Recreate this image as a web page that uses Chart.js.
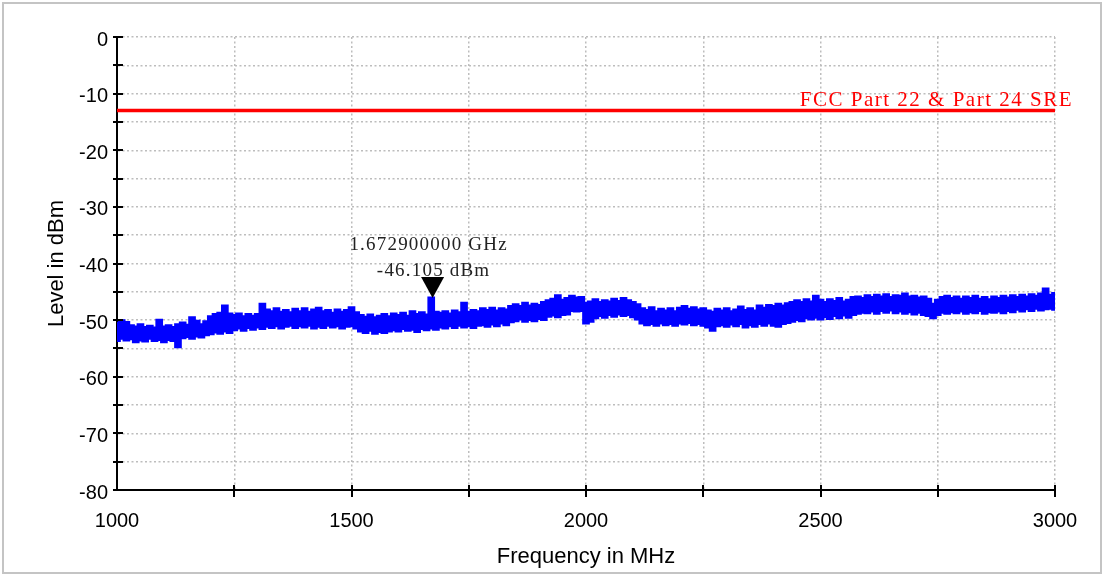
<!DOCTYPE html>
<html>
<head>
<meta charset="utf-8">
<title>Spectrum scan</title>
<script src="https://cdn.jsdelivr.net/npm/chart.js@4.4.1/dist/chart.umd.min.js"></script>
<style>
  html, body { margin: 0; padding: 0; background: #fff; }
  canvas { display: block; }
</style>
</head>
<body>
<canvas id="chart" width="1104" height="575"></canvas>
<script>
const freqStartMHz = 1000;
const freqStepMHz = 10;

// upper edge of the noise band (dBm)
const upperLevels = [
  -50.6, -50.1, -50.4, -51.0, -51.2, -50.8, -51.3, -51.1, -51.4, -50.0,
  -51.2, -51.0, -51.3, -50.8, -50.5, -50.9, -49.6, -50.2, -50.8, -50.3,
  -49.4, -49.0, -48.8, -47.5, -48.9, -49.2, -48.9, -49.4, -49.0, -49.3,
  -49.0, -47.2, -48.2, -48.5, -48.0, -48.6, -48.3, -48.7, -48.1, -48.5,
  -48.0, -48.6, -48.2, -47.9, -48.5, -48.3, -48.8, -48.2, -48.6, -48.3,
  -47.8, -48.7, -49.2, -49.5, -49.1, -49.6, -49.3, -49.0, -49.4, -48.9,
  -49.2, -48.8, -49.3, -48.5, -49.0, -48.7, -49.1, -46.1, -48.6, -48.8,
  -48.5, -48.9, -48.4, -48.7, -47.0, -48.6, -48.3, -48.5, -48.0, -48.3,
  -47.9, -48.4, -48.0, -48.2, -47.6, -47.3, -47.6, -47.0, -47.5, -47.2,
  -47.4, -46.9, -46.6, -46.3, -45.7, -46.5, -46.2, -45.8, -46.1, -46.0,
  -47.0, -46.8, -46.4, -46.9, -46.6, -46.8, -46.3, -46.7, -46.2, -46.6,
  -46.9, -47.3, -48.0, -48.3, -47.8, -48.5, -48.1, -48.4, -48.0, -48.5,
  -47.9, -47.6, -48.1, -47.8, -48.2, -48.0, -48.4, -48.6, -48.1, -48.4,
  -48.0, -48.5, -48.2, -47.7, -48.3, -48.0, -48.4, -47.5, -47.9, -47.4,
  -47.6, -47.2, -47.5, -47.1, -46.9, -46.6, -46.9, -46.4, -46.8, -45.8,
  -46.5, -46.9, -46.4, -46.7, -46.2, -46.8, -46.5, -46.0, -45.9, -46.2,
  -45.7, -46.0, -45.6, -45.9, -45.5, -46.0, -45.7, -45.8, -45.4, -45.9,
  -45.8, -46.1, -45.9, -46.3, -47.2, -46.5, -46.0, -45.8, -46.2, -45.9,
  -46.3, -45.9, -46.2, -45.8, -46.3, -46.0, -46.4, -45.9, -46.2, -45.8,
  -46.1, -45.7, -46.0, -45.6, -45.9, -45.5, -45.8, -45.4, -44.5, -45.6,
  -45.3,
];

// lower edge of the noise band (dBm)
const lowerLevels = [
  -53.6, -53.2, -53.5, -53.3, -53.8, -53.5, -53.7, -53.2, -53.6, -53.4,
  -53.8, -53.4, -53.6, -54.7, -53.1, -52.9, -53.2, -52.8, -53.0, -52.6,
  -52.4, -52.1, -52.3, -51.9, -52.2, -51.7, -51.4, -51.8, -51.3, -51.6,
  -51.2, -51.5, -51.1, -51.3, -51.0, -51.4, -51.1, -50.9, -51.3, -51.0,
  -51.2, -50.9, -51.4, -51.1, -51.3, -50.9, -51.2, -51.0, -51.4, -51.1,
  -51.0, -51.4, -51.9, -52.2, -51.8, -52.3, -52.0, -52.2, -51.9, -51.7,
  -51.9, -51.5, -51.8, -51.6, -52.0, -51.5, -51.7, -51.4, -51.6, -51.2,
  -51.4, -51.0, -51.3, -50.9, -51.2, -51.0, -51.3, -50.9, -50.8, -51.1,
  -50.7, -51.0, -50.5, -50.8, -50.3, -50.1, -49.8, -50.2, -49.9, -50.1,
  -49.7, -49.9, -49.3, -49.1, -49.4, -49.0, -48.9, -48.3, -48.4, -48.3,
  -50.5, -50.2, -49.6, -49.2, -49.5, -49.0, -49.3, -48.9, -49.2, -49.0,
  -49.4, -49.8, -50.5, -50.8, -50.6, -50.9, -50.5, -50.8, -50.6, -50.9,
  -50.5, -50.7, -50.4, -50.8, -50.6, -50.9, -51.2, -51.8, -51.0, -50.8,
  -51.1, -50.7, -51.0, -50.6, -51.2, -50.8, -51.1, -50.6, -50.9, -50.5,
  -50.9, -51.1, -50.6, -50.4, -50.2, -49.9, -50.1, -49.6, -49.8, -49.5,
  -49.8, -49.4, -49.7, -49.2, -49.6, -49.1, -49.5, -49.0, -48.8, -48.6,
  -48.7, -48.4, -48.8, -48.3, -48.6, -48.2, -48.7, -48.4, -48.8, -48.5,
  -48.9, -48.6, -49.0, -49.2, -49.6, -49.0, -48.6, -48.8, -48.5, -48.7,
  -48.4, -48.8, -48.5, -48.7, -48.3, -48.8, -48.5, -48.6, -48.4, -48.7,
  -48.3, -48.5, -48.1, -48.4, -48.0, -48.3, -47.9, -48.2, -48.0, -47.9,
  -48.1,
];

// limit line
const limitFreqs = [1000, 3000];
const limitLevels = [-13, -13];
const limitLabel = 'FCC Part 22 & Part 24 SRE';

// peak marker
const markerFreq = 1672.9;
const markerLevel = -46.105;

// axes
const xMin = 1000, xMax = 3000, xStep = 250, xLabelEvery = 500;
const yMin = -80, yMax = 0, yStep = 5, yLabelEvery = 10;

const freqs = upperLevels.map((_, i) => freqStartMHz + i * freqStepMHz);
const toPoints = (xs, ys) => xs.map((x, i) => ({ x, y: ys[i] }));

const BLUE = '#0000ff';
const GRID = '#bdbdbd';
const SERIF = '"Liberation Serif", "DejaVu Serif", serif';
const SANS = '"Liberation Sans", Arial, sans-serif';

const overlay = {
  id: 'overlay',
  afterDraw (chart) {
    const { ctx, scales: { x, y } } = chart;
    const axisX = x.left;
    const axisY = y.bottom;
    ctx.save();

    // tick marks crossing the axes
    ctx.strokeStyle = '#000';
    ctx.lineWidth = 2;
    ctx.beginPath();
    for (let v = yMin; v <= yMax; v += yStep) {
      const py = Math.round(y.getPixelForValue(v));
      ctx.moveTo(axisX - 4, py);
      ctx.lineTo(axisX + 6, py);
    }
    for (let v = xMin + xStep; v <= xMax; v += xStep) {
      const px = Math.round(x.getPixelForValue(v));
      ctx.moveTo(px, axisY - 5);
      ctx.lineTo(px, axisY + 7);
    }
    ctx.stroke();

    // limit label
    ctx.fillStyle = '#ff0000';
    ctx.font = `21px ${SERIF}`;
    ctx.letterSpacing = '1.5px';
    ctx.textAlign = 'right';
    ctx.textBaseline = 'alphabetic';
    ctx.fillText(limitLabel, x.right + 18, y.getPixelForValue(limitLevels[1]) - 5);

    // peak marker
    const mx = x.getPixelForValue(markerFreq);
    const my = y.getPixelForValue(markerLevel);
    ctx.fillStyle = '#000';
    ctx.beginPath();
    ctx.moveTo(mx, my);
    ctx.lineTo(mx - 11.5, my - 21);
    ctx.lineTo(mx + 11.5, my - 21);
    ctx.closePath();
    ctx.fill();

    ctx.fillStyle = '#222';
    ctx.font = `19px ${SERIF}`;
    ctx.letterSpacing = '1.2px';
    ctx.textAlign = 'center';
    ctx.fillText(`${(markerFreq / 1000).toFixed(9)} GHz`, mx - 4, my - 48);
    ctx.fillText(`${markerLevel.toFixed(3)} dBm`, mx + 1, my - 22);

    // outer frame
    ctx.letterSpacing = '0px';
    ctx.strokeStyle = '#c4c4c4';
    ctx.lineWidth = 2;
    ctx.strokeRect(3, 3, chart.width - 6, chart.height - 5);
    ctx.restore();
  },
};

new Chart(document.getElementById('chart'), {
  type: 'line',
  data: {
    datasets: [
      {
        label: 'Limit',
        data: toPoints(limitFreqs, limitLevels),
        borderColor: '#ff0000',
        borderWidth: 3.5,
        pointRadius: 0,
        fill: false,
        order: 0,
      },
      {
        label: 'Upper',
        data: toPoints(freqs, upperLevels),
        borderColor: BLUE,
        backgroundColor: BLUE,
        borderWidth: 3,
        pointRadius: 0,
        stepped: 'middle',
        fill: '+1',
        order: 1,
      },
      {
        label: 'Lower',
        data: toPoints(freqs, lowerLevels),
        borderColor: BLUE,
        borderWidth: 3,
        pointRadius: 0,
        stepped: 'middle',
        fill: false,
        order: 2,
      },
    ],
  },
  options: {
    responsive: false,
    animation: false,
    devicePixelRatio: 1,
    layout: { padding: { top: 37, right: 49, left: 0, bottom: 0 } },
    plugins: {
      legend: { display: false },
      tooltip: { enabled: false },
    },
    scales: {
      x: {
        type: 'linear',
        min: xMin,
        max: xMax,
        afterFit (scale) { scale.height = 85; },
        border: { display: true, color: '#000', width: 2, dash: [2, 2.5] },
        grid: { color: GRID, lineWidth: 1.5, drawTicks: false },
        ticks: {
          stepSize: xStep,
          padding: 19,
          color: '#000',
          maxRotation: 0,
          autoSkip: false,
          font: { family: SANS, size: 20 },
          callback: (v) => (v % xLabelEvery === 0 ? String(v) : ''),
        },
        title: {
          display: true,
          text: 'Frequency in MHz',
          color: '#000',
          font: { family: SANS, size: 22 },
          padding: { top: 0, bottom: 5 },
        },
      },
      y: {
        min: yMin,
        max: yMax,
        afterFit (scale) { scale.width = 117; },
        border: { display: true, color: '#000', width: 2, dash: [2, 2.5] },
        grid: { color: GRID, lineWidth: 1.5, drawTicks: false },
        ticks: {
          stepSize: yStep,
          padding: 9,
          labelOffset: 3,
          color: '#000',
          autoSkip: false,
          font: { family: SANS, size: 20 },
          callback: (v) => (v % yLabelEvery === 0 ? String(v) : ''),
        },
        title: {
          display: true,
          text: 'Level in dBm',
          color: '#000',
          font: { family: SANS, size: 22 },
          padding: { top: 44, bottom: 0 },
        },
      },
    },
  },
  plugins: [overlay],
});
</script>
</body>
</html>
